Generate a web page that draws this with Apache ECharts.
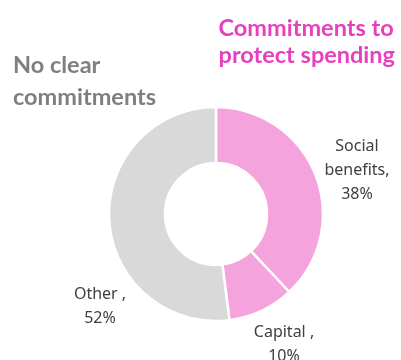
<!DOCTYPE html>
<html>
<head>
<meta charset="utf-8">
<script src="https://cdn.jsdelivr.net/npm/echarts@6/dist/echarts.min.js"></script>
<style>
  html, body { margin: 0; padding: 0; background: #ffffff; }
  #chart { width: 401px; height: 360px; }
</style>
</head>
<body>
<div id="chart"></div>
<script>
// Spending split of the donut, clockwise from the top
const categories = ['Social benefits', 'Capital ', 'Other '];
const labelTexts = ['Social\nbenefits,', 'Capital ,', 'Other ,'];
const shares = [38, 10, 52];
const sliceColors = ['#F4A3DC', '#F4A3DC', '#D9D9D9'];

// Where each slice's label sits (canvas pixels)
const labelSpots = [[357, 170], [284, 344], [100, 306]];

const titleFont = 'Lato, "Source Sans Pro", "Noto Sans", sans-serif';
const labelFont = '"Noto Sans", "Source Sans Pro", Lato, sans-serif';

const chart = echarts.init(document.getElementById('chart'), null, { renderer: 'canvas' });

chart.setOption({
  backgroundColor: '#ffffff',
  animation: false,
  title: [
    {
      text: 'Commitments to\nprotect spending',
      right: 1,
      top: 10,
      textStyle: {
        fontFamily: titleFont, fontWeight: 'bold', fontSize: 23.5,
        lineHeight: 27, color: '#E83FBF'
      }
    },
    {
      text: 'No clear\ncommitments',
      left: 8,
      top: 44,
      textStyle: {
        fontFamily: titleFont, fontWeight: 'bold', fontSize: 23.5,
        lineHeight: 32, color: '#7F7F7F'
      }
    }
  ],
  series: [{
    type: 'pie',
    center: [216, 214],
    radius: [51, 107],
    startAngle: 90,
    clockwise: true,
    avoidLabelOverlap: false,
    itemStyle: { borderColor: '#ffffff', borderWidth: 2.5 },
    label: {
      show: true,
      position: 'outside',
      fontFamily: labelFont,
      fontSize: 16,
      lineHeight: 24,
      color: '#404040',
      align: 'center',
      formatter: function (p) {
        return labelTexts[p.dataIndex] + '\n' + p.value + '%';
      }
    },
    labelLine: { show: false },
    labelLayout: function (params) {
      const spot = labelSpots[params.dataIndex];
      return { x: spot[0], y: spot[1], align: 'center', verticalAlign: 'middle' };
    },
    data: categories.map(function (name, i) {
      return { name: name, value: shares[i], itemStyle: { color: sliceColors[i] } };
    })
  }]
});
</script>
</body>
</html>
